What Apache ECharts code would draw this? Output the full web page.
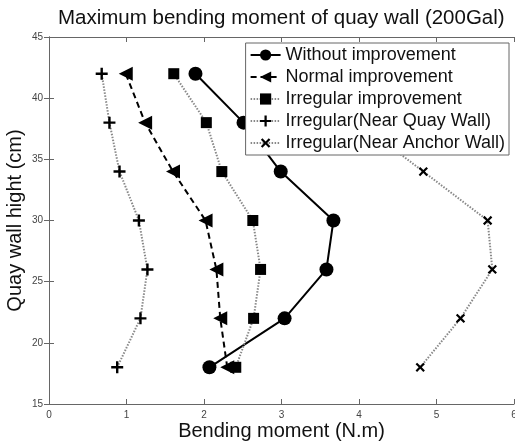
<!DOCTYPE html>
<html>
<head>
<meta charset="utf-8">
<script src="https://cdn.jsdelivr.net/npm/echarts@6/dist/echarts.min.js"></script>
<style>
  html, body { margin: 0; padding: 0; background: #fff; }
  #chart { width: 515px; height: 443px; }
</style>
</head>
<body>
<div id="chart"></div>
<script>
// wall heights (cm) and bending moments (N.m)
const heights = [18, 22, 26, 30, 34, 38, 42];
const withoutImp = [2.07, 3.04, 3.58, 3.67, 2.99, 2.51, 1.89];
const normalImp = [2.30, 2.21, 2.16, 2.02, 1.60, 1.24, 0.99];
const irregularImp = [2.41, 2.64, 2.73, 2.63, 2.23, 2.03, 1.61];
const nearQuay = [0.88, 1.18, 1.27, 1.16, 0.91, 0.78, 0.68];
const nearAnchor = [4.79, 5.31, 5.72, 5.66, 4.83, 4.0, 3.3];
const names = [
  'Without improvement',
  'Normal improvement',
  'Irregular improvement',
  'Irregular(Near Quay Wall)',
  'Irregular(Near Anchor Wall)'
];

const font = 'Liberation Sans, Arial, sans-serif';
const plus = 'path://M4,0H6V4H10V6H6V10H4V6H0V4H4Z';

function pairs(xs) {
  return xs.map(function (x, i) { return [x, heights[i]]; });
}

function makeSeries(name, xs, line, symbol, size, rotate) {
  return {
    name: name,
    type: 'line',
    data: pairs(xs),
    symbol: symbol,
    symbolSize: size,
    symbolRotate: rotate || 0,
    showAllSymbol: true,
    lineStyle: line,
    itemStyle: { color: '#000' },
    emphasis: { disabled: true },
    animation: false
  };
}

const solid = { color: '#000', width: 2, type: 'solid' };
const dashed = { color: '#000', width: 2, type: [6, 4] };
const dotted = { color: '#888', width: 2, type: [1.5, 1.5] };

const chart = echarts.init(document.getElementById('chart'));
chart.setOption({
  backgroundColor: '#fff',
  textStyle: { fontFamily: font },
  title: {
    text: 'Maximum bending moment of quay wall (200Gal)',
    left: 53,
    top: 3,
    textStyle: { fontFamily: font, fontSize: 20.5, fontWeight: 'normal', color: '#111' }
  },
  grid: { left: 49, right: 1, top: 37, bottom: 39, outerBoundsMode: 'none' },
  legend: {
    orient: 'vertical',
    right: 6,
    top: 43,
    itemWidth: 30,
    itemHeight: 14,
    itemGap: 4,
    padding: [3, 4, 3, 4],
    backgroundColor: '#fff',
    borderColor: '#666',
    borderWidth: 1,
    borderRadius: 0,
    textStyle: { fontFamily: font, fontSize: 18, color: '#111' },
    data: names
  },
  xAxis: [{
    type: 'value',
    min: 0, max: 6, interval: 1,
    name: 'Bending moment (N.m)',
    nameLocation: 'middle',
    nameGap: 17,
    nameMoveOverlap: false,
    nameTextStyle: { fontFamily: font, fontSize: 20, color: '#111', verticalAlign: 'top' },
    axisLine: { lineStyle: { color: '#666' } },
    axisTick: { inside: true, length: 5, lineStyle: { color: '#666' } },
    axisLabel: { fontSize: 10, color: '#444', margin: 6 },
    splitLine: { show: false }
  }, {
    type: 'value',
    position: 'top',
    min: 0, max: 6, interval: 1,
    axisLine: { lineStyle: { color: '#666' } },
    axisTick: { inside: true, length: 5, lineStyle: { color: '#666' } },
    axisLabel: { show: false },
    splitLine: { show: false }
  }],
  yAxis: [{
    type: 'value',
    min: 15, max: 45, interval: 5,
    name: 'Quay wall hight (cm)',
    nameLocation: 'middle',
    nameGap: 24,
    nameMoveOverlap: false,
    nameTextStyle: { fontFamily: font, fontSize: 20, color: '#111' },
    axisLine: { show: true, lineStyle: { color: '#666' } },
    axisTick: { show: true, inside: true, length: 5, lineStyle: { color: '#666' } },
    axisLabel: { fontSize: 10, color: '#444', margin: 6 },
    splitLine: { show: false }
  }, {
    type: 'value',
    position: 'right',
    min: 15, max: 45, interval: 5,
    axisLine: { show: true, lineStyle: { color: '#666' } },
    axisTick: { show: true, inside: true, length: 5, lineStyle: { color: '#666' } },
    axisLabel: { show: false },
    splitLine: { show: false }
  }],
  series: [
    makeSeries(names[0], withoutImp, solid, 'circle', 14),
    makeSeries(names[1], normalImp, dashed, 'triangle', 14, 90),
    makeSeries(names[2], irregularImp, dotted, 'rect', 11),
    makeSeries(names[3], nearQuay, dotted, plus, 12),
    makeSeries(names[4], nearAnchor, dotted, plus, 11, 45)
  ]
});
</script>
</body>
</html>
